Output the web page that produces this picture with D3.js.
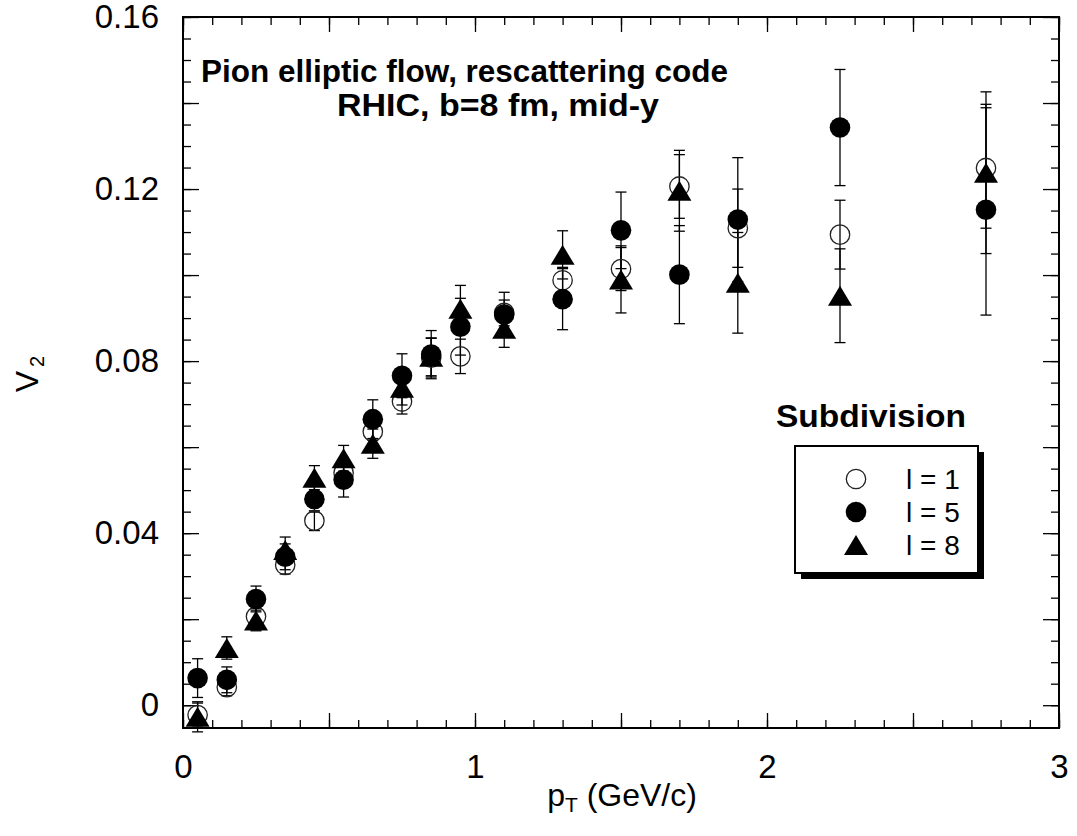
<!DOCTYPE html>
<html>
<head>
<meta charset="utf-8">
<script src="https://cdn.jsdelivr.net/npm/d3@7"></script>
<style>
  html, body { margin: 0; padding: 0; background: #fff; }
  svg text { font-family: "Liberation Sans", Arial, Helvetica, sans-serif; fill: #000; }
</style>
</head>
<body>
<svg id="chart" width="1077" height="836"></svg>
<script>
// ---------------- data ----------------
const pT = [0.05, 0.15, 0.25, 0.35, 0.45, 0.55, 0.65, 0.75, 0.85, 0.95, 1.1, 1.3, 1.5, 1.7, 1.9, 2.25, 2.75];

const v2_l1 = [-0.0023, 0.0042, 0.0206, 0.0326, 0.0429, 0.0540, 0.0636, 0.0706, 0.0808, 0.0811, 0.0912, 0.0988, 0.1014, 0.1206, 0.1109, 0.1094, 0.1249];
const err_l1 = [0.0028, 0.0020, 0.0020, 0.0021, 0.0023, 0.0020, 0.0020, 0.0029, 0.0045, 0.0040, 0.0030, 0.0030, 0.0050, 0.0074, 0.0091, 0.0080, 0.0140];

const v2_l5 = [0.0063, 0.0059, 0.0247, 0.0345, 0.0479, 0.0524, 0.0665, 0.0766, 0.0815, 0.0880, 0.0908, 0.0944, 0.1104, 0.1001, 0.1129, 0.1343, 0.1152];
const err_l5 = [0.0045, 0.0030, 0.0030, 0.0030, 0.0030, 0.0040, 0.0045, 0.0051, 0.0056, 0.0066, 0.0052, 0.0071, 0.0089, 0.0114, 0.0144, 0.0135, 0.0245];

const v2_l8 = [-0.0027, 0.0133, 0.0197, 0.0361, 0.0529, 0.0574, 0.0608, 0.0738, 0.0810, 0.0922, 0.0875, 0.1047, 0.0990, 0.1196, 0.0982, 0.0952, 0.1238];
const err_l8 = [0.0035, 0.0026, 0.0024, 0.0030, 0.0028, 0.0030, 0.0034, 0.0040, 0.0044, 0.0054, 0.0043, 0.0056, 0.0078, 0.0094, 0.0117, 0.0109, 0.0188];

const seriesNames = ["l = 1", "l = 5", "l = 8"];
const seriesSymbols = ["openCircle", "filledCircle", "triangle"];

const xMajorTicks = [0, 0.5, 1, 1.5, 2, 2.5, 3];
const xLabelTicks = [0, 1, 2, 3];
const yLabelTicks = [0, 0.04, 0.08, 0.12, 0.16];

const titleLines = ["Pion elliptic flow, rescattering code", "RHIC, b=8 fm, mid-y"];
const legendTitle = "Subdivision";

// ---------------- layout ----------------
const svg = d3.select("#chart");
const L = 183, R = 1059, T = 17, B = 728;
const x = d3.scaleLinear().domain([0, 3]).range([L, R]);
const y = d3.scaleLinear().domain([-0.0053, 0.16]).range([B, T]);

const xMinor = d3.range(0, 3.0001, 0.1).map(v => +v.toFixed(2));
const yMinor = d3.range(0, 0.16001, 0.005).map(v => +v.toFixed(4));
const yMajor = d3.range(0, 0.16001, 0.02).map(v => +v.toFixed(3));

const fmtY = v => v === 0 ? "0" : d3.format(".2f")(v);

function styleAxis(g) {
  g.select(".domain").remove();
  g.selectAll("line").attr("stroke", "#000").attr("stroke-width", 1.3);
}

// bottom axis: minor, major, labels
svg.append("g").attr("transform", `translate(0,${B})`)
  .call(d3.axisBottom(x).tickValues(xMinor).tickSize(-8).tickFormat(""))
  .call(styleAxis);
svg.append("g").attr("transform", `translate(0,${B})`)
  .call(d3.axisBottom(x).tickValues(xMajorTicks).tickSize(-15).tickFormat(""))
  .call(styleAxis);
svg.append("g").attr("transform", `translate(0,${B})`)
  .call(d3.axisBottom(x).tickValues(xLabelTicks).tickSize(0).tickPadding(27).tickFormat(d3.format("d")))
  .call(styleAxis)
  .selectAll("text").style("font-size", "33px");

// top axis ticks
svg.append("g").attr("transform", `translate(0,${T})`)
  .call(d3.axisTop(x).tickValues(xMinor).tickSize(-8).tickFormat(""))
  .call(styleAxis);
svg.append("g").attr("transform", `translate(0,${T})`)
  .call(d3.axisTop(x).tickValues(xMajorTicks).tickSize(-15).tickFormat(""))
  .call(styleAxis);

// left axis
svg.append("g").attr("transform", `translate(${L},0)`)
  .call(d3.axisLeft(y).tickValues(yMinor).tickSize(-8).tickFormat(""))
  .call(styleAxis);
svg.append("g").attr("transform", `translate(${L},0)`)
  .call(d3.axisLeft(y).tickValues(yMajor).tickSize(-16).tickFormat(""))
  .call(styleAxis);
svg.append("g").attr("transform", `translate(${L},0)`)
  .call(d3.axisLeft(y).tickValues(yLabelTicks).tickSize(0).tickPadding(24).tickFormat(fmtY))
  .call(styleAxis)
  .selectAll("text").style("font-size", "33px");

// right axis ticks
svg.append("g").attr("transform", `translate(${R},0)`)
  .call(d3.axisRight(y).tickValues(yMinor).tickSize(-8).tickFormat(""))
  .call(styleAxis);
svg.append("g").attr("transform", `translate(${R},0)`)
  .call(d3.axisRight(y).tickValues(yMajor).tickSize(-16).tickFormat(""))
  .call(styleAxis);

// frame
svg.append("rect").attr("x", L).attr("y", T).attr("width", R - L).attr("height", B - T)
  .attr("fill", "none").attr("stroke", "#000").attr("stroke-width", 2);

// axis titles
const xt = svg.append("text").attr("x", 622).attr("y", 806).attr("text-anchor", "middle")
  .style("font-size", "32px");
xt.append("tspan").text("p");
xt.append("tspan").attr("baseline-shift", "-30%").style("font-size", "21px").text("T");
xt.append("tspan").attr("baseline-shift", "0%").text(" (GeV/c)");

const yt = svg.append("text").attr("transform", "translate(38,374) rotate(-90)")
  .attr("text-anchor", "middle").style("font-size", "32px");
yt.append("tspan").text("V");
yt.append("tspan").attr("dx", 4).attr("baseline-shift", "-30%").style("font-size", "20px").text("2");

// title
svg.append("text").attr("x", 201).attr("y", 82).style("font-size", "31px").style("font-weight", "bold")
  .attr("textLength", 527).attr("lengthAdjust", "spacingAndGlyphs")
  .text(titleLines[0]);
svg.append("text").attr("x", 337).attr("y", 116).style("font-size", "31px").style("font-weight", "bold")
  .attr("textLength", 322).attr("lengthAdjust", "spacingAndGlyphs")
  .text(titleLines[1]);

// ---------------- data marks ----------------
const series = [
  { vals: v2_l1, errs: err_l1, sym: seriesSymbols[0] },
  { vals: v2_l5, errs: err_l5, sym: seriesSymbols[1] },
  { vals: v2_l8, errs: err_l8, sym: seriesSymbols[2] }
];

const capW = 5.5;
const gErr = svg.append("g");
series.forEach(s => {
  const pts = pT.map((p, i) => ({ p, v: s.vals[i], e: s.errs[i] }));
  const g = gErr.append("g");
  g.selectAll("line.v").data(pts).join("line")
    .attr("x1", d => x(d.p)).attr("x2", d => x(d.p))
    .attr("y1", d => y(d.v + d.e)).attr("y2", d => y(d.v - d.e))
    .attr("stroke", "#000").attr("stroke-width", 1.3);
  g.selectAll("line.t").data(pts).join("line")
    .attr("x1", d => x(d.p) - capW).attr("x2", d => x(d.p) + capW)
    .attr("y1", d => y(d.v + d.e)).attr("y2", d => y(d.v + d.e))
    .attr("stroke", "#000").attr("stroke-width", 1.3);
  g.selectAll("line.b").data(pts).join("line")
    .attr("x1", d => x(d.p) - capW).attr("x2", d => x(d.p) + capW)
    .attr("y1", d => y(d.v - d.e)).attr("y2", d => y(d.v - d.e))
    .attr("stroke", "#000").attr("stroke-width", 1.3);
});

const triPath = "M0,-10L12,10L-12,10Z";
function drawSymbol(g, sym, cx, cy) {
  if (sym === "openCircle") {
    g.append("circle").attr("cx", cx).attr("cy", cy).attr("r", 9.7)
      .attr("fill", "none").attr("stroke", "#222").attr("stroke-width", 1.3);
  } else if (sym === "filledCircle") {
    g.append("circle").attr("cx", cx).attr("cy", cy).attr("r", 10.3).attr("fill", "#000");
  } else {
    g.append("path").attr("d", triPath).attr("transform", `translate(${cx},${cy})`).attr("fill", "#000");
  }
}

series.forEach(s => {
  const g = svg.append("g");
  pT.forEach((p, i) => drawSymbol(g, s.sym, x(p), y(s.vals[i])));
});

// ---------------- legend ----------------
svg.append("text").attr("x", 776).attr("y", 427).style("font-size", "32px").style("font-weight", "bold")
  .attr("textLength", 190).attr("lengthAdjust", "spacingAndGlyphs")
  .text(legendTitle);
svg.append("rect").attr("x", 801).attr("y", 452).attr("width", 183).attr("height", 127).attr("fill", "#000");
svg.append("rect").attr("x", 795).attr("y", 446).attr("width", 183).attr("height", 127)
  .attr("fill", "#fff").attr("stroke", "#000").attr("stroke-width", 2);
const legRows = [479, 512, 545];
seriesNames.forEach((name, i) => {
  const g = svg.append("g");
  drawSymbol(g, seriesSymbols[i], 856, legRows[i]);
  svg.append("text").attr("x", 906).attr("y", legRows[i] + 10).style("font-size", "28px").text(name);
});
</script>
</body>
</html>
